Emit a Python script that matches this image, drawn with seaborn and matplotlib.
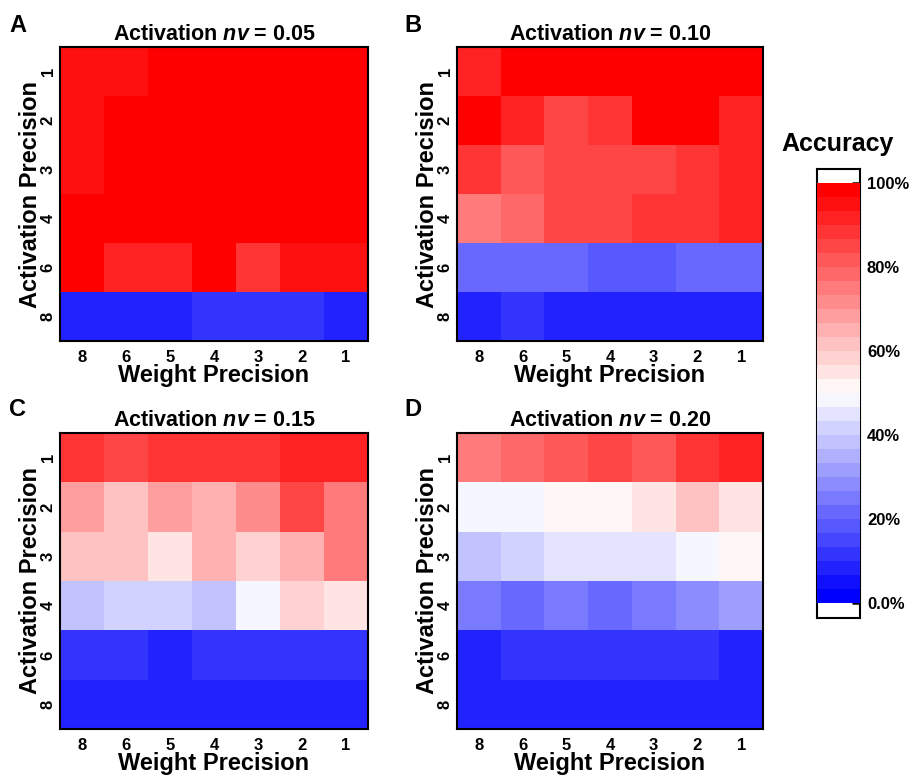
import numpy as np
import seaborn as sns
import matplotlib.pyplot as plt
from matplotlib.colors import ListedColormap

# axis categories
weight_prec = ["8", "6", "5", "4", "3", "2", "1"]
act_prec = ["1", "2", "3", "4", "6", "8"]

# accuracy (%) - rows: activation precision, cols: weight precision
acc_nv005 = [
    [96, 96, 99, 99, 99, 99, 99],
    [96, 99, 99, 99, 99, 99, 99],
    [96, 99, 99, 99, 99, 99, 99],
    [97, 97, 99, 98, 98, 99, 99],
    [98, 92.5, 92.5, 98, 89, 95, 95],
    [8, 8, 8, 11, 11, 11, 8],
]
acc_nv010 = [
    [92.5, 99, 99, 99, 99, 99, 99],
    [99, 92.5, 85, 89, 99, 99, 92.5],
    [87, 82, 85, 85, 85, 89, 92.5],
    [75.5, 78.5, 85, 85, 89, 89, 92.5],
    [21.5, 21.5, 21.5, 17.7, 17.7, 21.5, 21.5],
    [8, 11, 8, 8, 8, 8, 8],
]
acc_nv015 = [
    [89, 85, 89, 89, 89, 92.5, 92.5],
    [69.5, 62, 68.5, 65, 72.5, 86, 75.5],
    [62, 62, 55.5, 66.5, 59, 64, 75.5],
    [37.5, 42.5, 42.5, 37.5, 48, 59, 55.5],
    [11, 11, 8, 11, 11, 11, 11],
    [8, 8, 8, 8, 8, 8, 8],
]
acc_nv020 = [
    [75.5, 78.5, 82, 85, 82, 89, 92.5],
    [48, 48, 51.7, 51.7, 55.5, 62, 55.5],
    [37.5, 42.5, 44.5, 44.5, 44.5, 48, 51.7],
    [24.5, 21.5, 25.5, 21.5, 24.5, 28, 31],
    [8, 11, 11, 11, 11, 11, 8],
    [8, 8, 8, 8, 8, 8, 8],
]
nv_values = ["0.05", "0.10", "0.15", "0.20"]
panel_letters = ["A", "B", "C", "D"]
cbar_ticks = [0, 20, 40, 60, 80, 100]
cbar_labels = ["0.0%", "20%", "40%", "60%", "80%", "100%"]

sns.set_style("white")
plt.rcParams["font.family"] = ["Liberation Sans", "DejaVu Sans"]
plt.rcParams["font.weight"] = "bold"
plt.rcParams["text.color"] = "black"
plt.rcParams["axes.labelcolor"] = "black"
plt.rcParams["xtick.color"] = "black"
plt.rcParams["ytick.color"] = "black"
plt.rcParams["mathtext.fontset"] = "custom"
plt.rcParams["mathtext.it"] = "Liberation Sans:italic:bold"
plt.rcParams["mathtext.rm"] = "Liberation Sans:bold"

# 30 discrete steps blue -> white -> red
cmap = ListedColormap(plt.get_cmap("bwr")(np.linspace(0, 1, 30)))

W, H = 911, 779
fig = plt.figure(figsize=(W / 100, H / 100), dpi=100)


def px_axes(x0, y0, x1, y1):
    return fig.add_axes([x0 / W, 1 - y1 / H, (x1 - x0) / W, (y1 - y0) / H])


panel_boxes = [(60, 47, 368, 341), (457, 47, 763, 341),
               (60, 433, 368, 729), (457, 433, 763, 729)]
letter_pos = [(9, 32), (404, 32), (9, 416), (404, 416)]

# colorbar: outer frame with white margins + inner colour strip
box_ax = px_axes(817, 169, 860, 618)
box_ax.set_xticks([])
box_ax.set_yticks([])
for s in box_ax.spines.values():
    s.set_visible(True)
    s.set_linewidth(1.5)
    s.set_color("black")
cax = px_axes(817, 183, 860, 603)

data_all = [acc_nv005, acc_nv010, acc_nv015, acc_nv020]
heat_axes = []
for i, acc in enumerate(data_all):
    ax = px_axes(*panel_boxes[i])
    sns.heatmap(np.array(acc), ax=ax, cmap=cmap, vmin=0, vmax=100,
                xticklabels=weight_prec, yticklabels=act_prec,
                cbar=(i == 0), cbar_ax=cax if i == 0 else None)
    heat_axes.append(ax)
    for s in ax.spines.values():
        s.set_visible(True)
        s.set_linewidth(1.5)
        s.set_color("black")
    ax.tick_params(axis="x", length=0, labelsize=12, pad=6.5)
    ax.tick_params(axis="y", length=0, labelsize=12, pad=3)
    plt.setp(ax.get_xticklabels(), fontweight="bold", rotation=0)
    plt.setp(ax.get_yticklabels(), fontweight="bold", rotation=90, va="center")
    ax.set_xlabel("Weight Precision", fontsize=17, fontweight="bold", labelpad=-1)
    ax.set_ylabel("Activation Precision", fontsize=17, fontweight="bold", labelpad=-1)
    ax.set_title("Activation $nv$ = " + nv_values[i], fontsize=15.5,
                 fontweight="bold", pad=5)
    lx, ly = letter_pos[i]
    fig.text(lx / W, 1 - ly / H, panel_letters[i], fontsize=17,
             fontweight="bold", va="baseline", ha="left")

cbar = heat_axes[0].collections[0].colorbar
cbar.outline.set_visible(False)
cbar.set_ticks(cbar_ticks)
cbar.set_ticklabels(cbar_labels)
cax.tick_params(direction="in", length=6, width=1.8, labelsize=12, pad=5,
                right=True)
plt.setp(cax.get_yticklabels(), fontweight="bold")
fig.text(838 / W, 1 - 151 / H, "Accuracy", fontsize=18, fontweight="bold",
         ha="center", va="baseline")

fig.savefig("out.png", dpi=100)
